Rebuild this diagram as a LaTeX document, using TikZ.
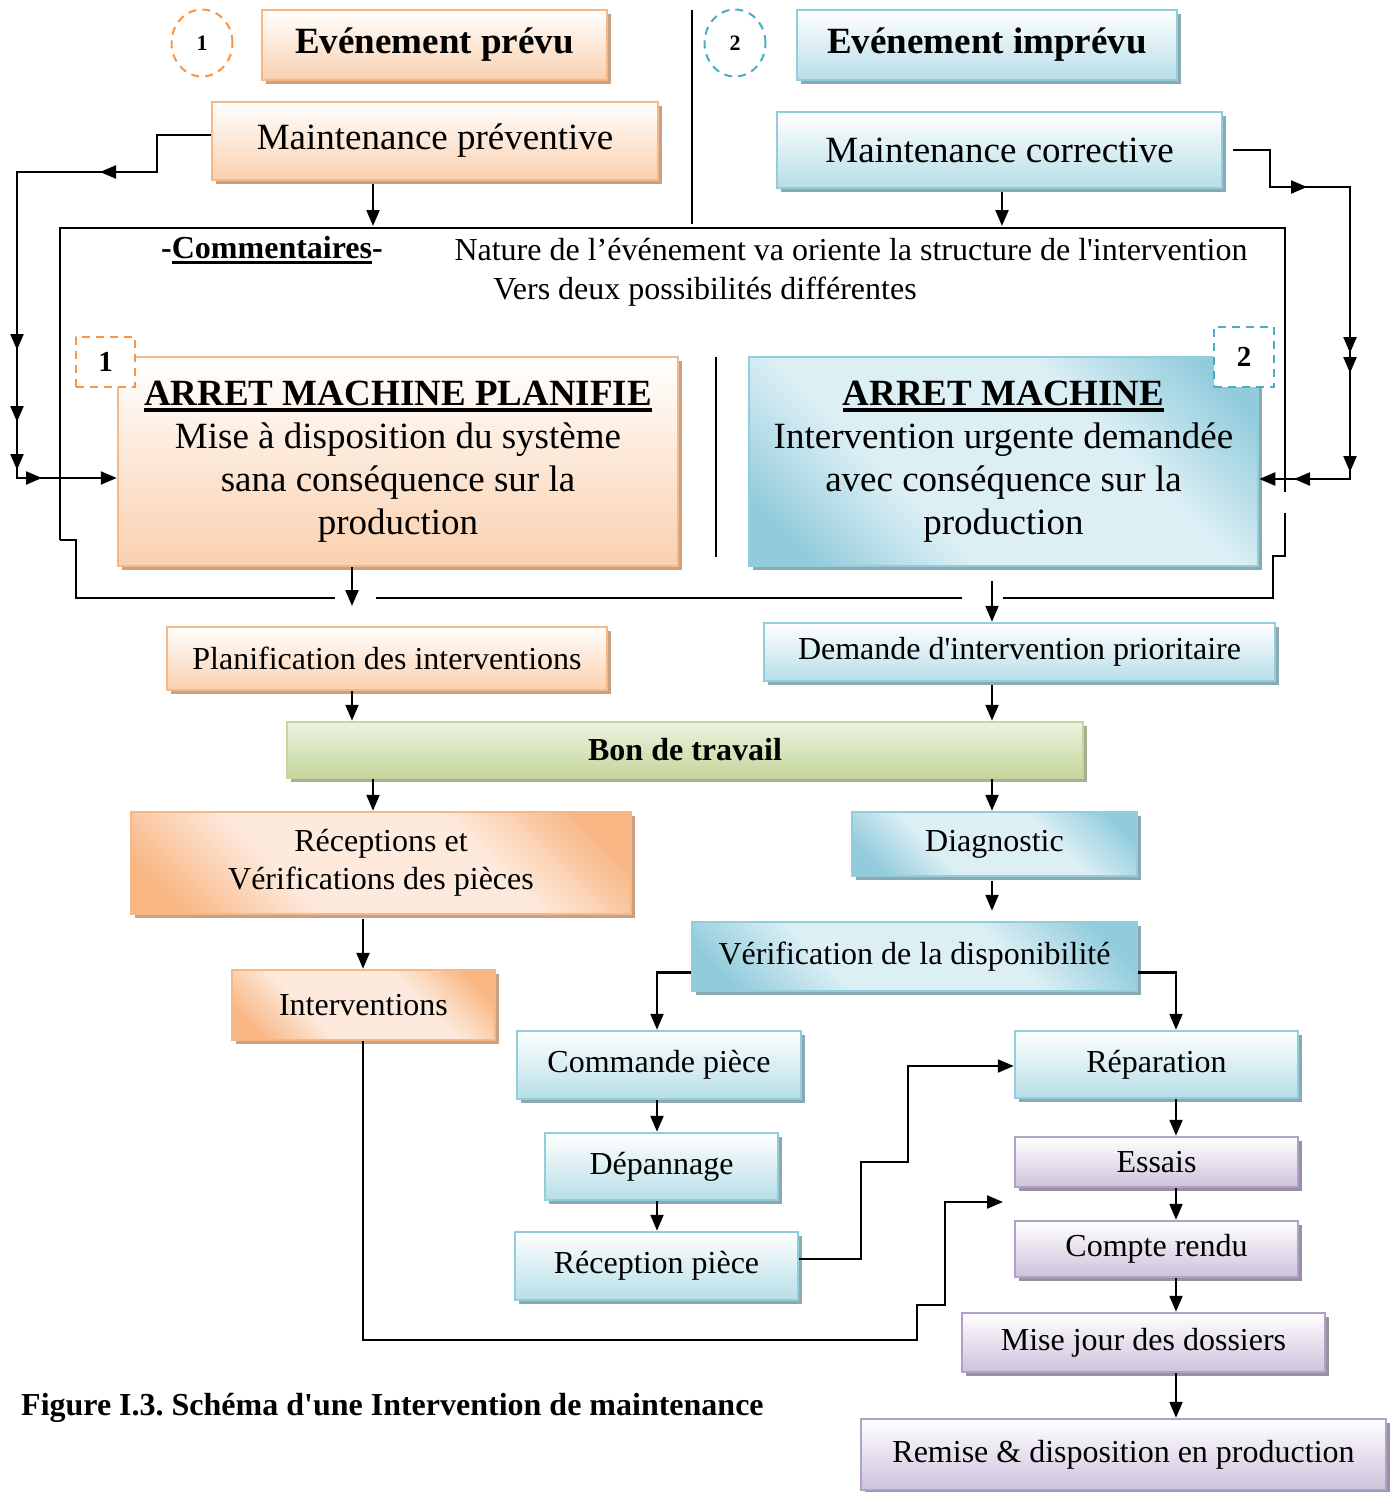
\documentclass[tikz,border=0pt]{standalone}
\usepackage{fontspec}
\setmainfont{Liberation Serif}
\usetikzlibrary{shadows,arrows.meta,shapes.geometric}
\frenchspacing
\definecolor{orB}{RGB}{248,184,134}
\definecolor{orF}{RGB}{250,208,174}
\definecolor{orD}{RGB}{248,182,130}
\definecolor{orL}{RGB}{253,234,220}
\definecolor{orS}{RGB}{200,160,132}
\definecolor{orK}{RGB}{247,150,70}
\definecolor{blB}{RGB}{146,205,220}
\definecolor{blF}{RGB}{183,222,232}
\definecolor{blD}{RGB}{146,204,220}
\definecolor{blL}{RGB}{220,239,245}
\definecolor{blS}{RGB}{140,168,176}
\definecolor{blK}{RGB}{75,172,198}
\definecolor{puB}{RGB}{178,161,199}
\definecolor{puF}{RGB}{206,194,220}
\definecolor{puS}{RGB}{150,146,162}
\definecolor{grB}{RGB}{195,214,155}
\definecolor{grF}{RGB}{196,215,155}
\definecolor{grL}{RGB}{236,242,224}
\definecolor{grS}{RGB}{165,175,145}
\pgfdeclareverticalshading{orDiag}{100bp}{color(0bp)=(orD); color(21bp)=(orD); color(37bp)=(orL); color(63bp)=(orL); color(79bp)=(orD); color(100bp)=(orD)}
\pgfdeclareverticalshading{blDiag}{100bp}{color(0bp)=(blD); color(21bp)=(blD); color(37bp)=(blL); color(63bp)=(blL); color(79bp)=(blD); color(100bp)=(blD)}
\newcommand{\thul}[1]{\setbox0\hbox{#1}\rlap{\vrule width \wd0 height -3pt depth 7pt}\box0}
\newcommand{\thulb}[1]{\setbox0\hbox{#1}\rlap{\vrule width \wd0 height -3pt depth 6pt}\box0}
\tikzset{
  box/.style={rectangle, line width=2.5pt, inner sep=0pt, align=center, font=\fontsize{32}{38}\selectfont},
  shO/.style={drop shadow={shadow xshift=4pt,shadow yshift=-4pt,fill=orS,opacity=1}},
  shB/.style={drop shadow={shadow xshift=4pt,shadow yshift=-4pt,fill=blS,opacity=1}},
  shP/.style={drop shadow={shadow xshift=4pt,shadow yshift=-4pt,fill=puS,opacity=1}},
  shG/.style={drop shadow={shadow xshift=4pt,shadow yshift=-4pt,fill=grS,opacity=1}},
  orv/.style={box, shO, draw=orB, top color=white, bottom color=orF},
  ord/.style={box, shO, draw=orB, shade, shading=orDiag, shading angle=135},
  blv/.style={box, shB, draw=blB, top color=white, bottom color=blF},
  bld/.style={box, shB, draw=blB, shade, shading=blDiag, shading angle=135},
  puv/.style={box, shP, draw=puB, top color=white, bottom color=puF},
  grv/.style={box, shG, draw=grB, top color=grL, bottom color=grF},
  circ/.style={ellipse, dashed, dash pattern=on 8pt off 6pt, line width=2pt, minimum width=61pt, minimum height=67pt, inner sep=0pt, font=\bfseries\fontsize{22}{22}\selectfont},
  sqr/.style={rectangle, dashed, dash pattern=on 8pt off 6pt, line width=2pt, fill=white, inner sep=0pt, font=\bfseries\fontsize{29}{29}\selectfont},
  arr/.style={line width=2.2pt, -{Triangle[length=16pt,width=13pt]}},
  frm/.style={line width=1.8pt},
  sep/.style={line width=1.6pt},
}
\begin{document}
\begin{tikzpicture}[x=1pt,y=-1pt]
\useasboundingbox (0,0) rectangle (1397,1492);

% top row
\node[circ, draw=orK] (c1) at (202,43) {1};
\node[orv, minimum width=345pt, minimum height=70pt, font=\bfseries\fontsize{37}{44}\selectfont] (ep) at (434.5,45) {Evénement prévu};
\node[circ, draw=blK] (c2) at (735,43) {2};
\node[blv, minimum width=380pt, minimum height=70pt, font=\bfseries\fontsize{37}{44}\selectfont] (ei) at (987,45) {Evénement imprévu};
\draw[sep] (692,10) -- (692,224);

\node[orv, minimum width=446pt, minimum height=78pt, font=\fontsize{37}{44}\selectfont] (mp) at (435,141) {Maintenance préventive};
\node[blv, minimum width=445pt, minimum height=76pt, font=\fontsize{37}{44}\selectfont] (mc) at (999.5,150) {Maintenance corrective};

% comment frame
\draw[frm] (60,540) -- (60,228) -- (1285,228) -- (1285,492);
\draw[frm] (1285,513) -- (1285,556) -- (1273,556) -- (1273,598) -- (1003,598);
\draw[frm] (962,598) -- (376,598);
\draw[frm] (335,598) -- (76,598) -- (76,540) -- (60,540);

\node[font=\bfseries\fontsize{32}{32}\selectfont] (cm) at (272,250) {-\thulb{Commentaires}-};
\node[font=\fontsize{32}{32}\selectfont] (nat) at (851,250) {Nature de l’événement va oriente la structure de l\textquotesingle intervention};
\node[font=\fontsize{32}{32}\selectfont] (vrs) at (705,292) {Vers deux possibilités différentes};

% arret boxes
\node[orv, minimum width=560pt, minimum height=209pt, font=\fontsize{37}{43}\selectfont] (amp) at (398,461.5) {\textbf{\thul{ARRET MACHINE PLANIFIE}}\\Mise à disposition du système\\sana conséquence sur la\\production};
\node[sqr, draw=orK, minimum width=59pt, minimum height=50pt] (s1) at (105.5,362) {1};
\draw[sep] (716,357) -- (716,557);
\node[bld, minimum width=509pt, minimum height=209pt, font=\fontsize{37}{43}\selectfont] (am) at (1003.5,461.5) {\textbf{\thul{ARRET MACHINE}}\\Intervention urgente demandée\\avec conséquence sur la\\production};
\node[sqr, draw=blK, minimum width=60pt, minimum height=60pt] (s2) at (1244,357) {2};

% lower boxes
\node[orv, minimum width=440pt, minimum height=63pt] (pl) at (387,658.5) {Planification des interventions};
\node[blv, minimum width=511pt, minimum height=58pt] (dem) at (1019.5,652) {Demande d\textquotesingle intervention prioritaire};
\node[grv, minimum width=796pt, minimum height=56pt, font=\bfseries\fontsize{32}{37}\selectfont] (bon) at (685,750) {Bon de travail};
\node[ord, minimum width=500pt, minimum height=102pt] (rec) at (381,863) {Réceptions et\\Vérifications des pièces};
\node[ord, minimum width=263pt, minimum height=70pt] (itv) at (363.5,1005) {Interventions};
\node[bld, minimum width=285pt, minimum height=64pt] (dia) at (994.5,844) {Diagnostic};
\node[bld, minimum width=445pt, minimum height=69pt] (ver) at (914.5,956.5) {Vérification de la disponibilité};
\node[blv, minimum width=284pt, minimum height=68pt] (cmd) at (659,1065) {Commande pièce};
\node[blv, minimum width=233pt, minimum height=67pt] (dep) at (661.5,1166.5) {Dépannage};
\node[blv, minimum width=283pt, minimum height=68pt] (rcp) at (656.5,1266) {Réception pièce};
\node[blv, minimum width=283pt, minimum height=67pt] (rep) at (1156.5,1064.5) {Réparation};
\node[puv, minimum width=283pt, minimum height=50pt] (ess) at (1156.5,1162) {Essais};
\node[puv, minimum width=283pt, minimum height=56pt] (cr) at (1156.5,1249) {Compte rendu};
\node[puv, minimum width=363pt, minimum height=59pt] (mjd) at (1143.5,1342.5) {Mise jour des dossiers};
\node[puv, minimum width=525pt, minimum height=71pt] (rem) at (1123.5,1454.5) {Remise \& disposition en production};

\node[font=\bfseries\fontsize{32}{32}\selectfont, anchor=west, inner sep=0pt] (cap) at (21,1408) {Figure I.3. Schéma d\textquotesingle une Intervention de maintenance};

% coordinates
\coordinate (tA) at (373,226);
\coordinate (tB) at (1002,226);
\coordinate (tC) at (352,606);
\coordinate (xL1) at (373,0);
\coordinate (xL2) at (352,0);
\coordinate (xL3) at (363,0);
\coordinate (xM) at (657,0);
\coordinate (xR2) at (992,0);
\coordinate (xR3) at (1176,0);
\coordinate (lk1) at (157,172);
\coordinate (lk2) at (17,172);
\coordinate (lk3) at (17,478);
\coordinate (rk1) at (1270,187);
\coordinate (rk2) at (1350,187);
\coordinate (rk3) at (1350,479);
\coordinate (k1) at (861,1162);
\coordinate (k2) at (908,1066);
\coordinate (k3) at (917,1340);
\coordinate (k4) at (945,1305);
\coordinate (tE) at (1003,1202);

% connectors
\draw[arr] (mp.south -| tA) ++(0,3) -- (tA);
\draw[arr] (mc.south -| tB) ++(0,3) -- (tB);
\draw[arr] (amp.south -| tC) -- (tC);
\draw[arr] (am.south -| xR2) ++(0,14) -- (dem.north -| xR2);
\draw[arr] (pl.south -| xL2) -- (bon.north -| xL2);
\draw[arr] (dem.south -| xR2) ++(0,3) -- (bon.north -| xR2);
\draw[arr] (bon.south -| xL1) -- (rec.north -| xL1);
\draw[arr] (bon.south -| xR2) -- (dia.north -| xR2);
\draw[arr] (rec.south -| xL3) ++(0,4) -- (itv.north -| xL3);
\draw[arr] (dia.south -| xR2) ++(0,4) -- ([yshift=10pt]ver.north -| xR2);
\draw[arr] ([yshift=-16pt]ver.west) -| (cmd.north -| xM);
\draw[arr] ([yshift=-16pt]ver.east) -| (rep.north -| xR3);
\draw[arr] (cmd.south -| xM) -- (dep.north -| xM);
\draw[arr] (dep.south -| xM) -- (rcp.north -| xM);
\draw[arr] ([yshift=7pt]rcp.east) -| (k1) -| (k2) -- (rep.west |- k2);
\draw[arr] (rep.south -| xR3) -- (ess.north -| xR3);
\draw[arr] (ess.south -| xR3) -- (cr.north -| xR3);
\draw[arr] (cr.south -| xR3) -- (mjd.north -| xR3);
\draw[arr] (mjd.south -| xR3) -- (rem.north -| xR3);
\draw[arr] (itv.south -| xL3) |- (k3) |- (k4) |- (tE);

% left feedback
\draw[arr] ([yshift=6pt]mp.west) -| (lk1) -- (lk2) -- (lk3) -- (amp.west |- lk3);
\draw[arr] (lk1) -- ++(-57,0);
\draw[arr] (lk2) -- ++(0,178);
\draw[arr] (lk2) -- ++(0,250);
\draw[arr] (lk2) -- ++(0,298);
\draw[arr] (lk3) -- ++(25,0);

% right feedback
\draw[arr] ([xshift=10pt]mc.east) -| (rk1) -- (rk2) -- (rk3) -- (am.east |- rk3);
\draw[arr] (rk1) -- ++(37,0);
\draw[arr] (rk2) -- ++(0,166);
\draw[arr] (rk2) -- ++(0,186);
\draw[arr] (rk2) -- ++(0,285);
\draw[arr] (rk3) -- ++(-56,0);
\end{tikzpicture}
\end{document}
